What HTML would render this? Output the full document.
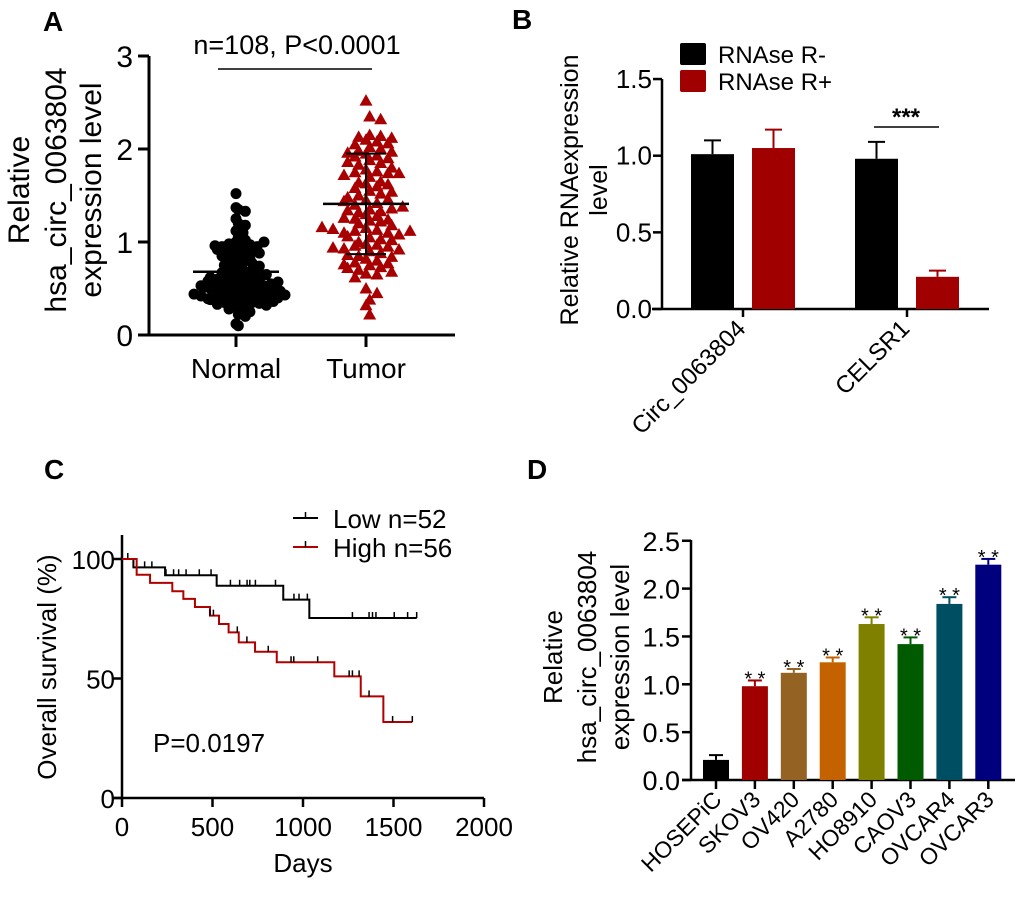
<!DOCTYPE html>
<html><head><meta charset="utf-8">
<style>
html,body{margin:0;padding:0;background:#fff;}
svg{display:block;font-family:"Liberation Sans",Arial,sans-serif;}
</style></head>
<body>
<svg id="fig" width="1020" height="901" viewBox="0 0 1020 901" xmlns="http://www.w3.org/2000/svg">
<g id="pA"></g>
<g id="pB"></g>
<g id="pC"></g>
<g id="pD"></g>
</svg>
<script>
// ---------- Panel A data ----------
const aCategories = ["Normal","Tumor"];
const aNormal = [1.52,1.37,1.35,1.33,1.25,1.2,1.18,1.12,1.1,1.05,1.02,1.0,1.0,0.98,0.97,0.95,0.95,0.94,0.93,0.92,0.9,0.9,0.88,0.87,0.85,0.83,0.82,0.8,0.8,0.78,0.77,0.75,0.74,0.72,0.7,0.7,0.68,0.67,0.65,0.64,0.63,0.62,0.6,0.6,0.59,0.58,0.57,0.56,0.55,0.55,0.54,0.53,0.52,0.52,0.5,0.5,0.49,0.48,0.47,0.46,0.45,0.45,0.44,0.43,0.42,0.41,0.4,0.4,0.39,0.38,0.37,0.36,0.35,0.35,0.34,0.33,0.32,0.31,0.3,0.28,0.25,0.22,0.2,0.12,0.1,0.6,0.58,0.5,0.45,0.42,0.38,0.55,0.65,0.7,0.85,0.92,0.96,1.0,0.53,0.48,0.36,0.4,0.44,0.62,0.57,0.51,0.47,0.43];
const aTumor = [2.52,2.35,2.32,2.15,2.14,2.13,2.12,2.1,2.08,2.05,2.02,2.0,1.98,1.97,1.95,1.93,1.92,1.9,1.88,1.85,1.83,1.8,1.78,1.76,1.75,1.74,1.7,1.65,1.63,1.6,1.58,1.55,1.52,1.5,1.45,1.42,1.4,1.35,1.33,1.32,1.3,1.28,1.25,1.23,1.22,1.2,1.18,1.15,1.13,1.12,1.1,1.1,1.08,1.05,1.03,1.0,0.98,0.97,0.96,0.95,0.93,0.92,0.9,0.88,0.85,0.82,0.8,0.78,0.77,0.75,0.73,0.7,0.68,0.66,0.65,0.62,0.5,0.45,0.38,0.32,0.22,1.14,1.24,1.36,1.46,1.62,1.72,1.86,1.96,2.06,1.12,1.26,0.94,0.84,0.72,1.02,1.16,1.34,1.44,1.54,1.64,1.74,0.86,0.76,1.06,1.38,1.48];
const aMeans = [0.68,1.41];
const aSDlo = [0.47,0.87];
const aSDhi = [0.90,1.95];
const aTicks = [0,1,2,3];
// ---------- Panel B data ----------
const bCategories = ["Circ_0063804","CELSR1"];
const bMinus = [1.01,0.98];
const bPlus = [1.05,0.21];
const bMinusErr = [0.09,0.11];
const bPlusErr = [0.12,0.04];
const bTicks = ["0.0","0.5","1.0","1.5"];
// ---------- Panel C data ----------
const cLowDays = [0,63,238,523,891,1035,1628];
const cLowSurv = [100,96.5,93.2,88.8,83,75.3,75.3];
const cLowCensor = [32,125,165,243,285,313,354,427,492,599,650,691,706,737,848,950,978,1024,1273,1365,1384,1403,1504,1578,1628];
const cHighDays = [0,81,155,278,339,403,486,536,589,645,735,855,1173,1319,1444,1604];
const cHighSurv = [100,93.4,90,86.5,83.3,79.9,76.3,72.8,69.3,65.1,61.2,56.8,50.9,42.5,31.8,31.8];
const cHighCensor = [486,505,637,690,808,934,949,1081,1255,1273,1310,1365,1495,1604];
const cXTicks = [0,500,1000,1500,2000];
const cYTicks = [0,50,100];
// ---------- Panel D data ----------
const dCategories = ["HOSEPiC","SKOV3","OV420","A2780","HO8910","CAOV3","OVCAR4","OVCAR3"];
const dValues = [0.21,0.98,1.12,1.23,1.63,1.42,1.84,2.25];
const dErrors = [0.05,0.06,0.04,0.05,0.07,0.07,0.07,0.06];
const dStars = ["","* *","* *","* *","* *","* *","* *","* *"];
const dTicks = ["0.0","0.5","1.0","1.5","2.0","2.5"];
const dColors = ["#000000","#a00000","#946222","#c46200","#808000","#005a00","#004e62","#00007e"];

const NS="http://www.w3.org/2000/svg";
function mk(parent,tag,attrs,text){const e=document.createElementNS(NS,tag);for(const k in attrs)e.setAttribute(k,attrs[k]);if(text!==undefined)e.textContent=text;parent.appendChild(e);return e;}

// ===== Panel A =====
(function(){
const g=document.getElementById('pA');
const y=v=>335-v*93;
const xc=[236,366];
let t=mk(g,'text',{x:43,y:31,'font-size':28,'font-weight':'bold'},'A');

t=mk(g,'text',{x:297,y:54,'font-size':27,'text-anchor':'middle'},'n=108, P<0.0001');

let l=mk(g,'line',{x1:218,y1:69,x2:372,y2:69,stroke:'#000','stroke-width':1.5});

l=mk(g,'line',{x1:149,y1:56,x2:149,y2:336,stroke:'#000','stroke-width':3});

l=mk(g,'line',{x1:138,y1:335,x2:455,y2:335,stroke:'#000','stroke-width':3});

aTicks.forEach(v=>{
 mk(g,'line',{x1:138,y1:y(v),x2:149,y2:y(v),stroke:'#000','stroke-width':3});
 const tx=mk(g,'text',{x:133,y:y(v)+11,'font-size':30,'text-anchor':'end'},String(v));
 
});
aCategories.forEach((c,i)=>{
 mk(g,'line',{x1:xc[i],y1:335,x2:xc[i],y2:347,stroke:'#000','stroke-width':3});
 const tx=mk(g,'text',{x:xc[i],y:378,'font-size':28,'text-anchor':'middle'},c);
 
});
const yl=mk(g,'text',{transform:'translate(0,190) rotate(-90)','font-size':30,'text-anchor':'middle'});
[['Relative',29],['hsa_circ_0063804',66],['expression level',101]].forEach(([s,x])=>{mk(yl,'tspan',{x:0,y:x},s);});

function swarm(vals,cx,step,binH){
 const bins={};const out=[];
 vals.forEach(v=>{const b=Math.round(v/binH);bins[b]=bins[b]||[];bins[b].push(v);});
 Object.keys(bins).forEach(b=>{bins[b].forEach((v,k)=>{const off=(k===0?0:(k%2?1:-1)*Math.ceil(k/2))*step+((b%2)?step/3:0);out.push([cx+off,v]);});});
 return out;
}
const sw=swarm(aNormal,236,7,0.07);
sw.forEach(([px,v])=>{const c=mk(g,'circle',{cx:px,cy:y(v),r:5.5,fill:'#000'});
 });
const st=swarm(aTumor,366,11,0.08);
st.forEach(([px,v])=>{const py=y(v);const p=mk(g,'polygon',{points:`${px},${py-6.5} ${px-6.5},${py+5} ${px+6.5},${py+5}`,fill:'#a80000'});
 });
xc.forEach((cx,i)=>{
 let m=mk(g,'line',{x1:cx-43,y1:y(aMeans[i]),x2:cx+43,y2:y(aMeans[i]),stroke:'#000','stroke-width':2.5});
 
 m=mk(g,'line',{x1:cx,y1:y(aSDlo[i]),x2:cx,y2:y(aSDhi[i]),stroke:'#000','stroke-width':2});
 
 [aSDlo[i],aSDhi[i]].forEach(v=>mk(g,'line',{x1:cx-20,y1:y(v),x2:cx+20,y2:y(v),stroke:'#000','stroke-width':2}));
});
})();

// ===== Panel B =====
(function(){
const g=document.getElementById('pB');
const y=v=>309-v*153.3;
const xc=[743,907];
let t=mk(g,'text',{x:512,y:29,'font-size':28,'font-weight':'bold'},'B');

let l=mk(g,'line',{x1:662,y1:79,x2:662,y2:310,stroke:'#000','stroke-width':2.5});

l=mk(g,'line',{x1:652,y1:309,x2:989,y2:309,stroke:'#000','stroke-width':2.5});

bTicks.forEach(s=>{const v=parseFloat(s);
 mk(g,'line',{x1:653,y1:y(v),x2:662,y2:y(v),stroke:'#000','stroke-width':2.5});
 const tx=mk(g,'text',{x:652,y:y(v)+9,'font-size':26,'text-anchor':'end'},s);
 
});
bCategories.forEach((c,i)=>{
 mk(g,'line',{x1:xc[i],y1:309,x2:xc[i],y2:317,stroke:'#000','stroke-width':2.5});
 const tx=mk(g,'text',{x:0,y:0,'font-size':24,'text-anchor':'end',transform:`translate(${xc[i]+4},${330}) rotate(-45)`},c);
 
 [[bMinus,bMinusErr,-52,'#000'],[bPlus,bPlusErr,9,'#a00000']].forEach(([vals,errs,off,col])=>{
  const x0=xc[i]+off;const v=vals[i];
  const e=mk(g,'line',{x1:x0+21.5,y1:y(v),x2:x0+21.5,y2:y(v+errs[i]),stroke:col,'stroke-width':2});
  
  mk(g,'line',{x1:x0+13,y1:y(v+errs[i]),x2:x0+30,y2:y(v+errs[i]),stroke:col,'stroke-width':2});
  const r=mk(g,'rect',{x:x0,y:y(v),width:43,height:309-y(v),fill:col});
  
 });
});
l=mk(g,'line',{x1:874,y1:127,x2:939,y2:127,stroke:'#000','stroke-width':1.5});

t=mk(g,'text',{x:906,y:125,'font-size':24,'text-anchor':'middle','font-weight':'bold'},'***');

const yl=mk(g,'text',{transform:'translate(0,190) rotate(-90)','font-size':25,'text-anchor':'middle'});
mk(yl,'tspan',{x:0,y:578},'Relative RNAexpression');mk(yl,'tspan',{x:0,y:607},'level');

[['#000','RNAse R-',43],['#a00000','RNAse R+',70]].forEach(([c,s,yy])=>{
 const lg=mk(g,'g',{});
 mk(lg,'rect',{x:680,y:yy,width:26,height:22,rx:2,fill:c});
 mk(lg,'text',{x:718,y:yy+20,'font-size':24},s);
});
})();

// ===== Panel C =====
(function(){
const g=document.getElementById('pC');
const x=d=>122+d*0.181;const y=p=>798-p*2.39;
let t=mk(g,'text',{x:44,y:479,'font-size':28,'font-weight':'bold'},'C');

let l=mk(g,'line',{x1:122,y1:535,x2:122,y2:799,stroke:'#000','stroke-width':2.5});

l=mk(g,'line',{x1:113,y1:798,x2:484,y2:798,stroke:'#000','stroke-width':2.5});

cYTicks.forEach(v=>{mk(g,'line',{x1:113,y1:y(v),x2:122,y2:y(v),stroke:'#000','stroke-width':2.5});
 const tx=mk(g,'text',{x:115,y:y(v)+10,'font-size':26,'text-anchor':'end'},String(v));
 });
cXTicks.forEach(v=>{mk(g,'line',{x1:x(v),y1:798,x2:x(v),y2:807,stroke:'#000','stroke-width':2.5});
 const tx=mk(g,'text',{x:x(v),y:836,'font-size':26,'text-anchor':'middle'},String(v));
 });
t=mk(g,'text',{x:303,y:872,'font-size':26,'text-anchor':'middle'},'Days');

t=mk(g,'text',{x:0,y:0,'font-size':26,'text-anchor':'middle',transform:'translate(56,667) rotate(-90)'},'Overall survival (%)');

t=mk(g,'text',{x:153,y:752,'font-size':26},'P=0.0197');

function km(days,surv,cens,col,name){
 let d=`M${x(days[0])},${y(surv[0])}`;
 for(let i=1;i<days.length;i++){d+=` H${x(days[i])} V${y(surv[i])}`;}
 const p=mk(g,'path',{d:d,fill:'none',stroke:col,'stroke-width':2});
 
 cens.forEach(c=>{let s=surv[0];for(let i=0;i<days.length;i++){if(days[i]<=c)s=surv[i];}
  const m=mk(g,'line',{x1:x(c),y1:y(s),x2:x(c),y2:y(s)-6,stroke:'#000','stroke-width':1.5});
  });
}
km(cLowDays,cLowSurv,cLowCensor,'#000','low-survival-curve');
km(cHighDays,cHighSurv,cHighCensor,'#b00000','high-survival-curve');
[['#000','Low n=52',518],['#b00000','High n=56',547]].forEach(([c,s,yy])=>{
 const lg=mk(g,'g',{});
 mk(lg,'line',{x1:293,y1:yy,x2:318,y2:yy,stroke:c,'stroke-width':2});
 mk(lg,'line',{x1:305.5,y1:yy,x2:305.5,y2:yy-6,stroke:'#000','stroke-width':1.5});
 mk(lg,'text',{x:333,y:yy+10,'font-size':26},s);
});
})();

// ===== Panel D =====
(function(){
const g=document.getElementById('pD');
const y=v=>780-v*95.7;const x=i=>716+i*38.9;
let t=mk(g,'text',{x:527,y:479,'font-size':28,'font-weight':'bold'},'D');

let l=mk(g,'line',{x1:691,y1:540,x2:691,y2:781,stroke:'#000','stroke-width':2.5});

l=mk(g,'line',{x1:682,y1:780,x2:1015,y2:780,stroke:'#000','stroke-width':2.5});

dTicks.forEach(s=>{const v=parseFloat(s);mk(g,'line',{x1:682,y1:y(v),x2:691,y2:y(v),stroke:'#000','stroke-width':2.5});
 const tx=mk(g,'text',{x:680,y:y(v)+10,'font-size':27,'text-anchor':'end'},s);
 });
dCategories.forEach((c,i)=>{
 const cx=x(i),v=dValues[i],col=dColors[i],top=y(v+dErrors[i]);
 mk(g,'line',{x1:cx,y1:780,x2:cx,y2:789,stroke:'#000','stroke-width':2.5});
 const e=mk(g,'line',{x1:cx,y1:y(v),x2:cx,y2:top,stroke:col,'stroke-width':2});
 
 mk(g,'line',{x1:cx-7,y1:top,x2:cx+7,y2:top,stroke:col,'stroke-width':2});
 const r=mk(g,'rect',{x:cx-13,y:y(v),width:26,height:780-y(v),fill:col});
 
 if(dStars[i]){const s=mk(g,'text',{x:cx,y:top+5,'font-size':20,'text-anchor':'middle'},dStars[i]);
  }
 const tx=mk(g,'text',{x:0,y:0,'font-size':23,'text-anchor':'end',transform:`translate(${cx+7},${801}) rotate(-45)`},c);
 
});
const yl=mk(g,'text',{transform:'translate(0,657) rotate(-90)','font-size':26,'text-anchor':'middle'});
[['Relative',562],['hsa_circ_0063804',596],['expression level',629]].forEach(([s,xx])=>mk(yl,'tspan',{x:0,y:xx},s));

})();
</script>
</body></html>
